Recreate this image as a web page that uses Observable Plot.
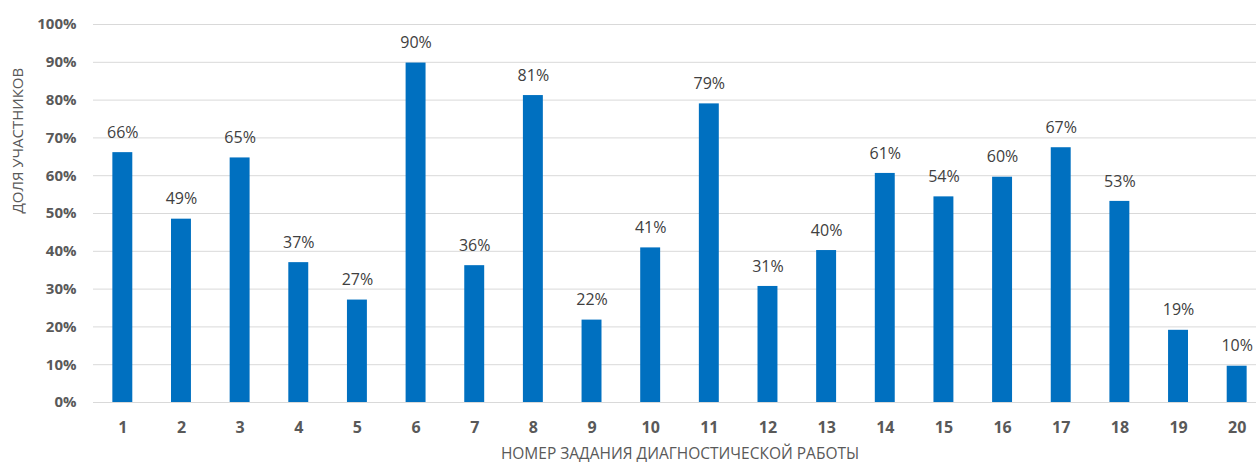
<!DOCTYPE html>
<html>
<head>
<meta charset="utf-8">
<script src="https://cdn.jsdelivr.net/npm/d3@7"></script>
<script src="https://cdn.jsdelivr.net/npm/@observablehq/plot@0.6"></script>
<style>
  html, body { margin: 0; padding: 0; background: #fff; }
  #chart svg { display: block; overflow: hidden; }
</style>
</head>
<body>
<div id="chart"></div>
<script>
const tasks = ["1","2","3","4","5","6","7","8","9","10","11","12","13","14","15","16","17","18","19","20"];
const shares = [66.1, 48.5, 64.7, 37.0, 27.1, 89.8, 36.2, 81.2, 21.8, 40.9, 79.0, 30.7, 40.2, 60.6, 54.4, 59.6, 67.4, 53.2, 19.1, 9.6];
const yTicks = [0, 10, 20, 30, 40, 50, 60, 70, 80, 90, 100];
const xTitle = "НОМЕР ЗАДАНИЯ ДИАГНОСТИЧЕСКОЙ РАБОТЫ";
const yTitle = "ДОЛЯ УЧАСТНИКОВ";

const data = tasks.map((t, i) => ({task: t, share: shares[i]}));

const chart = Plot.plot({
  width: 1256,
  height: 464,
  marginLeft: 93,
  marginRight: -10,
  marginTop: 24,
  marginBottom: 62,
  style: {fontFamily: "'Open Sans', sans-serif", color: "#595959", background: "#fff"},
  x: {domain: tasks, paddingInner: 0.66, paddingOuter: 0.33, align: 0.5, round: false},
  y: {domain: [0, 100]},
  marks: [
    Plot.gridY(yTicks, {stroke: "#d9d9d9", strokeOpacity: 1, strokeWidth: 1}),
    Plot.barY(data, {x: "task", y: "share", fill: "#0070C0"}),
    Plot.text(data, {x: "task", y: "share", text: d => Math.round(d.share) + "%", dy: -20, lineAnchor: "middle", fill: "#404040", fontSize: 16}),
    Plot.axisY({ticks: yTicks, tickFormat: d => d + "%", tickSize: 0, tickPadding: 17, fontSize: 15, fontWeight: "bold", label: null}),
    Plot.axisX({tickSize: 0, tickPadding: 19, fontSize: 16, fontWeight: "bold", label: null}),
    Plot.text([xTitle], {frameAnchor: "bottom", dy: 52, lineAnchor: "middle", fontSize: 15.5, fill: "#595959"}),
    Plot.text([yTitle], {frameAnchor: "left", dx: -75, rotate: -90, lineAnchor: "middle", fontSize: 15, fill: "#595959"})
  ]
});
document.getElementById("chart").appendChild(chart);
</script>
</body>
</html>
